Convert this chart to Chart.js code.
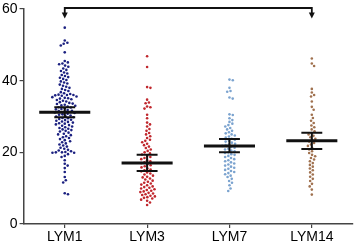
<!DOCTYPE html>
<html>
<head>
<meta charset="utf-8">
<script src="https://cdn.jsdelivr.net/npm/chart.js@4/dist/chart.umd.min.js"></script>
<style>
  html, body { margin: 0; padding: 0; background: #fff; }
  #wrap { width: 356px; height: 246px; position: relative; }
</style>
</head>
<body>
<div id="wrap"><canvas id="chart"></canvas></div>
<script>
const categories = ['LYM1', 'LYM3', 'LYM7', 'LYM14']
const yTicks = [0, 20, 40, 60]

// values
const lym1 = [54.8, 51.2, 50.6, 50.3, 49.8, 47.9, 45.5, 45.1, 44.8, 44.6, 44.2, 43.9, 43.4, 43.0, 42.7,
  42.3, 42.0, 41.6, 41.3, 41.0, 40.8, 40.5, 40.2, 39.8, 39.5, 39.2, 38.9, 38.6, 38.3, 38.0, 37.7, 37.4,
  37.1, 36.8, 36.5, 36.3, 36.1, 36.0, 36.0, 35.9, 35.8, 35.6, 35.4, 35.2, 35.1, 35.0, 34.8, 34.6, 34.4,
  34.2, 34.0, 33.8, 33.6, 33.5, 33.3, 33.1, 33.0, 32.8, 32.6, 32.5, 32.3, 32.1, 32.0, 31.8, 31.6, 31.5,
  31.3, 31.1, 31.0, 30.8, 30.6, 30.5, 30.3, 30.1, 30.0, 29.8, 29.6, 29.5, 29.3, 29.1, 29.0, 28.8, 28.6,
  28.5, 28.3, 28.1, 28.0, 27.8, 27.6, 27.4, 27.2, 27.0, 26.8, 26.6, 26.4, 26.2, 26.0, 25.8, 25.5, 25.2,
  25.0, 24.8, 24.5, 24.2, 24.0, 23.7, 23.4, 23.1, 22.8, 22.5, 22.2, 21.9, 21.6, 21.3, 21.0, 20.7, 20.5,
  20.3, 20.1, 20.0, 20.0, 19.9, 19.9, 19.5, 19.0, 18.7, 17.8, 16.8, 16.3, 15.6, 14.5, 13.1, 12.2, 11.6,
  8.6, 8.3]
const lym3 = [46.8, 43.8, 38.2, 38.0, 34.7, 33.9, 33.7, 32.8, 32.6, 32.2, 30.5, 29.5, 28.3, 27.8, 27.2,
  26.5, 26.0, 25.4, 25.0, 24.5, 24.0, 23.5, 23.2, 22.8, 22.4, 22.0, 21.6, 21.2, 20.8, 20.4, 20.0, 19.7,
  19.4, 19.0, 18.7, 18.4, 18.1, 17.8, 17.5, 17.2, 17.0, 16.7, 16.4, 16.1, 15.8, 15.5, 15.2, 15.0, 14.7,
  14.4, 14.1, 13.8, 13.5, 13.2, 13.0, 12.7, 12.4, 12.1, 11.8, 11.5, 11.3, 11.0, 10.8, 10.5, 10.3, 10.1,
  9.9, 9.7, 9.5, 9.3, 9.1, 8.9, 8.7, 8.5, 8.3, 8.1, 7.9, 7.7, 7.5, 7.3, 7.1, 6.8, 6.5, 6.0, 5.3]
const lym7 = [40.3, 40.1, 38.0, 37.1, 36.9, 35.3, 35.0, 30.6, 30.4, 29.5, 29.0, 28.5, 28.0, 27.6, 27.2,
  26.8, 26.4, 26.0, 25.6, 25.3, 25.0, 24.7, 24.4, 24.1, 23.8, 23.5, 23.2, 23.0, 22.7, 22.4, 22.2, 22.0,
  21.8, 21.5, 21.3, 21.0, 20.8, 20.5, 20.3, 20.0, 19.8, 19.5, 19.3, 19.0, 18.7, 18.4, 18.1, 17.8, 17.5,
  17.2, 16.9, 16.6, 16.3, 16.0, 15.7, 15.4, 15.1, 14.8, 14.5, 14.2, 13.9, 13.5, 13.1, 12.6, 12.0, 11.5,
  10.8, 9.9, 9.2]
const lym14 = [46.2, 44.8, 44.1, 37.7, 36.7, 36.0, 35.6, 34.2, 32.7, 31.9, 30.5, 29.6, 28.8, 28.2, 27.5,
  27.0, 26.4, 25.9, 25.4, 25.0, 24.6, 24.2, 23.8, 23.4, 23.0, 22.6, 22.2, 21.8, 21.3, 20.8, 20.3, 19.8,
  19.3, 18.9, 18.4, 18.0, 17.5, 17.0, 16.5, 16.0, 15.5, 15.0, 14.4, 13.8, 13.2, 12.6, 12.0, 11.2, 10.5,
  9.6, 8.2]

const means = [31.2, 17.0, 21.8, 23.2]
const errLow = [29.8, 14.8, 20.0, 20.9]
const errHigh = [32.6, 19.3, 23.7, 25.5]
const bracket = [0, 3]   // categories joined by the arrow at the top

const groups = [lym1, lym3, lym7, lym14]
const dotColors = ['#1b2080', '#c0272d', '#7ba3cf', '#a0714f']
const font = { family: "'Liberation Sans', Arial, sans-serif", size: 14, lineHeight: 1.0 }

const meanHalf = 0.31
const capHalf = 0.127

function segments(fn) {
  const out = []
  categories.forEach((c, i) => {
    fn(i).forEach((p) => out.push(p))
    out.push({ x: i, y: null })
  })
  return out
}

const dotSets = groups.map((vals, i) => ({
  type: 'scatter',
  data: vals.map((v) => ({ x: i, y: v })),
  backgroundColor: dotColors[i],
  borderWidth: 0,
  pointRadius: 1.3,
  pointHoverRadius: 1.3,
  order: 2,
}))

const lineSet = (data, width) => ({
  type: 'line',
  data: data,
  borderColor: '#111',
  borderWidth: width,
  pointRadius: 0,
  spanGaps: false,
  showLine: true,
  order: 0,
})

const meanSet = lineSet(segments((i) => [{ x: i - meanHalf, y: means[i] }, { x: i + meanHalf, y: means[i] }]), 3)
const capSet = lineSet(segments((i) => [{ x: i - capHalf, y: errHigh[i] }, { x: i + capHalf, y: errHigh[i] }]), 2)
const capLowSet = lineSet(segments((i) => [{ x: i - capHalf, y: errLow[i] }, { x: i + capHalf, y: errLow[i] }]), 2)
const stemSet = lineSet(segments((i) => [{ x: i, y: errLow[i] }, { x: i, y: errHigh[i] }]), 2)

const bracketPlugin = {
  id: 'bracket',
  afterDraw(chart) {
    const ctx = chart.ctx
    const xs = chart.scales.x
    const ys = chart.scales.y
    const x1 = xs.getPixelForValue(bracket[0])
    const x2 = xs.getPixelForValue(bracket[1])
    const top = ys.getPixelForValue(60) - 1
    const tip = top + 10.5
    ctx.save()
    ctx.strokeStyle = '#111'
    ctx.fillStyle = '#111'
    ctx.lineWidth = 1.8
    ctx.beginPath()
    ctx.moveTo(x1, tip - 5)
    ctx.lineTo(x1, top)
    ctx.lineTo(x2, top)
    ctx.lineTo(x2, tip - 5)
    ctx.stroke()
    ;[x1, x2].forEach((x) => {
      ctx.beginPath()
      ctx.moveTo(x - 3, tip - 6)
      ctx.lineTo(x + 3, tip - 6)
      ctx.lineTo(x, tip)
      ctx.closePath()
      ctx.fill()
    })
    ctx.restore()
  },
}

const axisStyle = {
  grid: { display: true, drawOnChartArea: false, drawTicks: true, tickLength: 4, color: '#444', lineWidth: 1.2 },
  border: { display: true, color: '#444', width: 1.5 },
}

const chart = new Chart(document.getElementById('chart'), {
  type: 'scatter',
  data: { datasets: [meanSet, capSet, capLowSet, stemSet].concat(dotSets) },
  options: {
    responsive: true,
    maintainAspectRatio: false,
    animation: false,
    events: [],
    layout: { padding: { top: 1, right: 3, left: 0, bottom: 0 } },
    plugins: { legend: { display: false }, tooltip: { enabled: false } },
    scales: {
      x: Object.assign({
        type: 'linear',
        min: -0.5,
        max: 3.5,
        afterBuildTicks: (axis) => { axis.ticks = categories.map((c, i) => ({ value: i })) },
        ticks: { font: font, color: '#000', padding: 2, callback: (v) => categories[v], maxRotation: 0 },
      }, axisStyle),
      y: Object.assign({
        min: 0,
        max: 60,
        afterBuildTicks: (axis) => { axis.ticks = yTicks.map((v) => ({ value: v })) },
        ticks: { font: font, color: '#000', padding: 2 },
      }, axisStyle),
    },
  },
  plugins: [bracketPlugin],
})

// lay the dots out side by side so they don't overlap (beeswarm)
function swarmOffsets(pys, d) {
  const order = pys.map((p, i) => i).sort((a, b) => pys[a] - pys[b])
  const placed = []
  const out = new Array(pys.length)
  order.forEach((i) => {
    const y = pys[i]
    const near = placed.filter((p) => Math.abs(p.y - y) < d)
    const cands = [0]
    near.forEach((p) => {
      const dx = Math.sqrt(d * d - (p.y - y) * (p.y - y))
      cands.push(p.x + dx, p.x - dx)
    })
    cands.sort((a, b) => Math.abs(a) - Math.abs(b))
    const x = cands.find((c) => near.every((p) => (p.x - c) * (p.x - c) + (p.y - y) * (p.y - y) >= d * d - 1e-6))
    placed.push({ x: x, y: y })
    out[i] = x
  })
  return out
}

function layoutSwarm() {
  const xs = chart.scales.x
  const ys = chart.scales.y
  groups.forEach((vals, i) => {
    const cx = xs.getPixelForValue(i)
    const offs = swarmOffsets(vals.map((v) => ys.getPixelForValue(v)), 3.4)
    dotSets[i].data = vals.map((v, k) => ({ x: xs.getValueForPixel(cx + offs[k]), y: v }))
  })
  chart.update('none')
}
layoutSwarm()
</script>
</body>
</html>
